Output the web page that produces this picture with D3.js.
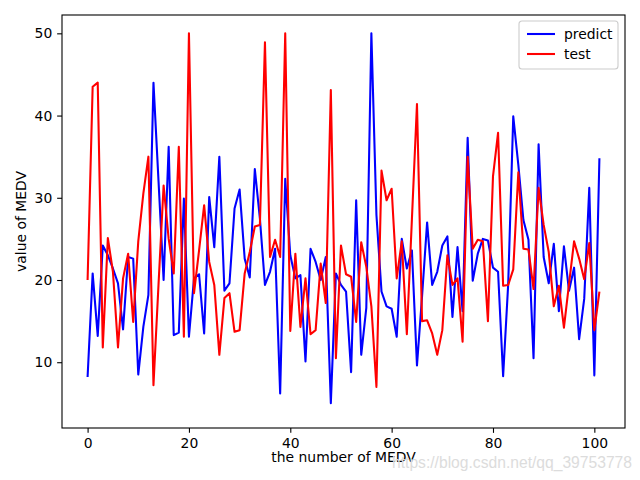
<!DOCTYPE html>
<html>
<head>
<meta charset="utf-8">
<script src="https://cdn.jsdelivr.net/npm/d3@7"></script>
<style>
body { margin: 0; background: #fff; }
text { font-family: "DejaVu Sans", sans-serif; }
</style>
</head>
<body>
<svg id="chart"></svg>
<script>
let width = 640
let height = 480
let margin = {top: 15, right: 15, bottom: 52, left: 62}

// values, index 0..101
let predict = [8.2, 20.8, 13.2, 24.2, 23.0, 21.4, 19.6, 14.0, 22.8, 22.6,
    8.5, 14.3, 18.2, 44.0, 32.0, 20.0, 36.2, 13.3, 13.6, 29.9,
    13.1, 20.2, 20.7, 13.5, 30.1, 24.0, 35.0, 18.7, 19.6, 28.7,
    31.0, 22.6, 20.3, 33.5, 27.5, 19.4, 21.0, 23.8, 6.2, 32.3,
    23.0, 20.2, 20.6, 10.1, 23.8, 22.2, 20.0, 22.8, 5.0, 20.8,
    19.4, 18.6, 8.8, 29.7, 10.9, 16.6, 50.0, 27.9, 18.6, 16.8,
    16.5, 13.1, 25.0, 21.4, 23.6, 9.6, 18.0, 27.0, 19.4, 21.0,
    24.2, 25.3, 15.5, 24.0, 16.2, 37.3, 19.9, 23.2, 25.0, 24.8,
    21.5, 21.0, 8.3, 19.5, 39.9, 34.0, 27.3, 24.9, 10.5, 36.5,
    22.8, 19.6, 24.4, 16.2, 24.1, 18.7, 21.5, 12.8, 17.7, 31.2,
    8.4, 34.8]

let test = [20.0, 43.5, 44.0, 11.8, 25.1, 21.0, 11.8, 20.2, 23.2, 14.9,
    24.7, 30.5, 35.0, 7.2, 19.5, 31.5, 25.0, 20.8, 36.2, 13.1,
    50.0, 18.4, 23.6, 29.1, 22.2, 19.4, 10.9, 17.8, 18.4, 13.7,
    13.9, 20.8, 23.4, 26.5, 26.7, 48.9, 22.8, 24.9, 22.8, 50.0,
    13.8, 23.2, 14.3, 20.2, 13.4, 13.9, 22.0, 17.2, 43.1, 10.5,
    24.2, 20.7, 20.4, 14.9, 24.6, 21.6, 16.8, 7.0, 33.3, 29.7,
    31.1, 20.2, 24.7, 13.4, 27.4, 41.4, 15.0, 15.1, 13.5, 10.9,
    13.9, 23.0, 19.4, 20.2, 12.5, 35.0, 23.8, 24.9, 24.7, 15.0,
    32.6, 37.9, 19.3, 19.4, 21.3, 33.1, 23.8, 23.7, 18.9, 31.2,
    26.7, 23.4, 16.8, 19.3, 14.2, 19.5, 24.7, 22.6, 20.1, 24.5,
    13.9, 18.6]

let xTicks = [0, 20, 40, 60, 80, 100]
let yTicks = [10, 20, 30, 40, 50]

let seriesNames = ["predict", "test"]
let seriesColors = ["#0000ff", "#ff0000"]

let plotW = width - margin.left - margin.right
let plotH = height - margin.top - margin.bottom

let xScale = d3.scaleLinear().domain([-5.05, 106.05]).range([0, plotW])
let yScale = d3.scaleLinear().domain([2.0, 52.23]).range([plotH, 0])

let svg = d3.select("#chart")
    .attr("width", width)
    .attr("height", height)

let g = svg.append("g")
    .attr("transform", "translate(" + margin.left + "," + margin.top + ")")

let line = d3.line()
    .x((d, i) => xScale(i))
    .y(d => yScale(d))

let series = [predict, test]
series.forEach((s, k) => {
    g.append("path")
        .datum(s)
        .attr("d", line)
        .attr("fill", "none")
        .attr("stroke", seriesColors[k])
        .attr("stroke-width", 2.08)
        .attr("stroke-linejoin", "round")
})

// x axis
let xAxis = g.append("g")
    .attr("transform", "translate(0," + plotH + ")")
    .call(d3.axisBottom(xScale).tickValues(xTicks).tickSize(4.86).tickPadding(4.9))
xAxis.select(".domain").remove()

// y axis
let yAxis = g.append("g")
    .call(d3.axisLeft(yScale).tickValues(yTicks).tickSize(4.86).tickPadding(4.9))
yAxis.select(".domain").remove()

svg.selectAll(".tick line").attr("stroke", "#000").attr("stroke-width", 1.1)
svg.selectAll(".tick text")
    .attr("fill", "#000")
    .style("font-family", "DejaVu Sans")
    .style("font-size", "13.9px")

// frame
g.append("rect")
    .attr("width", plotW)
    .attr("height", plotH)
    .attr("fill", "none")
    .attr("stroke", "#000")
    .attr("stroke-width", 1.1)

// axis labels
svg.append("text")
    .text("the number of MEDV")
    .attr("x", margin.left + plotW / 2)
    .attr("y", 462)
    .attr("text-anchor", "middle")
    .attr("font-size", "13.9px")
    .attr("fill", "#000")

svg.append("text")
    .text("value of MEDV")
    .attr("text-anchor", "middle")
    .attr("font-size", "13.9px")
    .attr("fill", "#000")
    .attr("transform", "translate(26," + (margin.top + plotH / 2) + ") rotate(-90)")

// legend
let legend = svg.append("g").attr("transform", "translate(519,21)")
legend.append("rect")
    .attr("width", 99)
    .attr("height", 48)
    .attr("rx", 3)
    .attr("fill", "#fff")
    .attr("fill-opacity", 0.8)
    .attr("stroke", "#cccccc")
    .attr("stroke-width", 1.1)

seriesNames.forEach((name, k) => {
    let yy = 13 + k * 20
    legend.append("line")
        .attr("x1", 8).attr("x2", 36)
        .attr("y1", yy).attr("y2", yy)
        .attr("stroke", seriesColors[k])
        .attr("stroke-width", 2.08)
    legend.append("text")
        .text(name)
        .attr("x", 45)
        .attr("y", yy + 5)
        .attr("font-size", "13.9px")
        .attr("fill", "#000")
})

// watermark
svg.append("text")
    .text("https://blog.csdn.net/qq_39753778")
    .attr("x", 392)
    .attr("y", 468)
    .attr("textLength", 240)
    .attr("lengthAdjust", "spacingAndGlyphs")
    .attr("font-size", "16px")
    .style("font-family", "Liberation Sans")
    .attr("fill", "#dcdcdc")
</script>
</body>
</html>
